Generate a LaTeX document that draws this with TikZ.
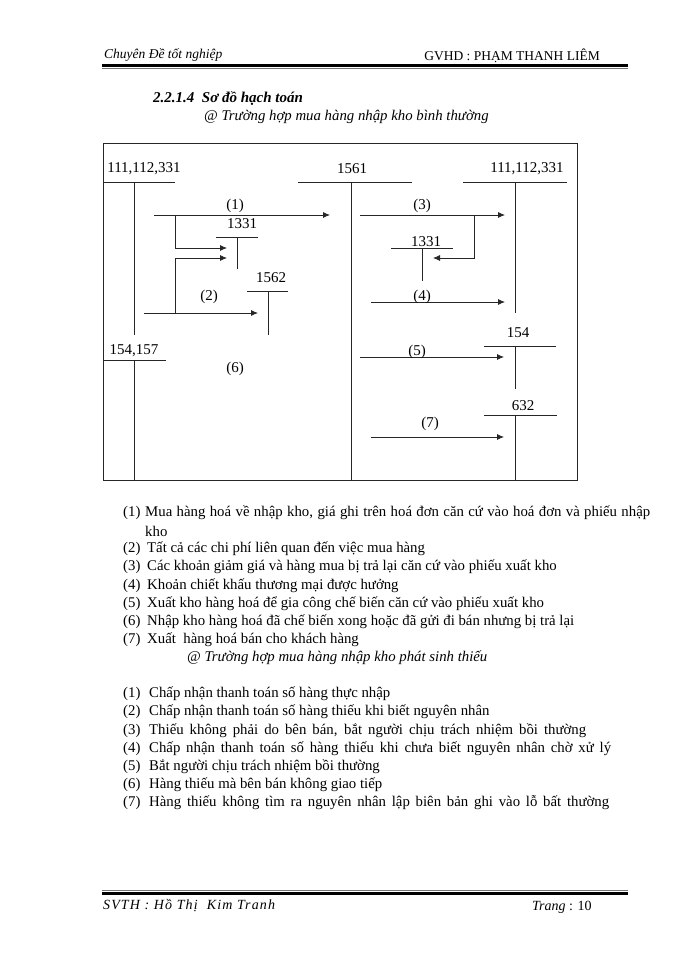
\documentclass[tikz,border=0pt]{standalone}
\usepackage{fontspec}
\setmainfont{Liberation Serif}
\usetikzlibrary{arrows.meta}
\tikzstyle{tk}=[draw=black!85,line width=.8pt]
\tikzstyle{arr}=[tk,-{Latex[length=7pt,width=6pt]}]
\tikzstyle{lbl}=[inner sep=0pt,font=\fontsize{15}{17}\selectfont]
\tikzstyle{itm}=[anchor=west,inner sep=0pt,font=\fontsize{14.8}{17}\selectfont]

\begin{document}
\begin{tikzpicture}[x=1pt,y=-1pt]
\useasboundingbox (0,0) rectangle (700,960);
% header
\node[itm,font=\itshape\fontsize{13.5}{15}\selectfont] (hdl) at (104,55) {Chuyên Đề tốt nghiệp};
\node[itm,anchor=east,font=\fontsize{13.5}{15}\selectfont] (hdr) at (600,56) {GVHD : PHẠM THANH LIÊM};
\draw[line width=2.5pt] (102,65.5) -- (628,65.5);
\draw[line width=.6pt,black!55] (102,68.5) -- (628,68.5);
\node[itm,font=\bfseries\itshape\fontsize{15}{17}\selectfont] (ttl) at (153,99) {2.2.1.4\ \ Sơ đồ hạch toán};
\node[itm,font=\itshape\fontsize{14.8}{17}\selectfont] (sub) at (204,117) {@ Trường hợp mua hàng nhập kho bình thường};
% frame
\draw[tk] (103,143) rectangle (577,480);
% T accounts
\node[lbl] (ta) at (144,169) {111,112,331};
\draw[tk] (103,182) -- (175,182); \draw[tk] (134,182) -- (134,335);
\node[lbl] (tb) at (352,169) {1561};
\draw[tk] (298,182) -- (412,182); \draw[tk] (351,182) -- (351,480);
\node[lbl] (tc) at (527,169) {111,112,331};
\draw[tk] (463,182) -- (567,182); \draw[tk] (515,182) -- (515,313);
\node[lbl] (td) at (242,224) {1331};
\draw[tk] (216,237) -- (258,237); \draw[tk] (237,237) -- (237,269);
\node[lbl] (te) at (271,278) {1562};
\draw[tk] (247,291) -- (288,291); \draw[tk] (268,291) -- (268,335);
\node[lbl] (tf) at (426,242) {1331};
\draw[tk] (391,248) -- (453,248); \draw[tk] (422,248) -- (422,281);
\node[lbl] (tg) at (134,351) {154,157};
\draw[tk] (103,360) -- (166,360); \draw[tk] (134,360) -- (134,480);
\node[lbl] (th) at (518,333) {154};
\draw[tk] (484,346) -- (556,346); \draw[tk] (515,346) -- (515,389);
\node[lbl] (ti) at (523,406) {632};
\draw[tk] (484,415) -- (557,415); \draw[tk] (515,415) -- (515,480);
% arrows
\coordinate (a1s) at (154,215); \coordinate (a1e) at (330,215);
\coordinate (b1) at (175,215); \coordinate (b2) at (175,248); \coordinate (b3) at (227,248);
\coordinate (c1) at (175,313); \coordinate (c2) at (175,258); \coordinate (c3) at (227,258);
\coordinate (a2s) at (144,313); \coordinate (a2e) at (258,313);
\coordinate (a3s) at (360,215); \coordinate (a3e) at (505,215);
\coordinate (d1) at (474,215); \coordinate (d2) at (474,258); \coordinate (d3) at (433,258);
\coordinate (a4s) at (371,302); \coordinate (a4e) at (505,302);
\coordinate (a5s) at (360,357); \coordinate (a5e) at (504,357);
\coordinate (a7s) at (371,437); \coordinate (a7e) at (504,437);
\draw[arr] (a1s) -- (a1e);
\draw[arr] (b1) -- (b2) -- (b3);
\draw[arr] (c1) -- (c2) -- (c3);
\draw[arr] (a2s) -- (a2e);
\draw[arr] (a3s) -- (a3e);
\draw[arr] (d1) -- (d2) -- (d3);
\draw[arr] (a4s) -- (a4e);
\draw[arr] (a5s) -- (a5e);
\draw[arr] (a7s) -- (a7e);
\node[lbl] (l1) at (235,206) {(1)};
\node[lbl] (l2) at (209,297) {(2)};
\node[lbl] (l3) at (422,206) {(3)};
\node[lbl] (l4) at (422,297) {(4)};
\node[lbl] (l5) at (417,352) {(5)};
\node[lbl] (l6) at (235,369) {(6)};
\node[lbl] (l7) at (430,424) {(7)};
% list 1
\node[itm] (n11) at (123,513) {(1)};
\node[itm] (t11) at (145,513) {\makebox[505pt][s]{Mua hàng hoá về nhập kho, giá ghi trên hoá đơn căn cứ vào hoá đơn và phiếu nhập}};
\node[itm] (t11b) at (145,531) {kho};
\node[itm] (n12) at (123,549) {(2)};
\node[itm] (t12) at (147,549) {Tất cả các chi phí liên quan đến việc mua hàng};
\node[itm] (n13) at (123,567) {(3)};
\node[itm] (t13) at (147,567) {Các khoản giảm giá và hàng mua bị trả lại căn cứ vào phiếu xuất kho};
\node[itm] (n14) at (123,586) {(4)};
\node[itm] (t14) at (147,586) {Khoản chiết khấu thương mại được hưởng};
\node[itm] (n15) at (123,604) {(5)};
\node[itm] (t15) at (147,604) {Xuất kho hàng hoá để gia công chế biến căn cứ vào phiếu xuất kho};
\node[itm] (n16) at (123,622) {(6)};
\node[itm] (t16) at (147,622) {Nhập kho hàng hoá đã chế biến xong hoặc đã gửi đi bán nhưng bị trả lại};
\node[itm] (n17) at (123,640) {(7)};
\node[itm] (t17) at (147,640) {Xuất\ \ hàng hoá bán cho khách hàng};
\node[itm,font=\itshape\fontsize{14.8}{17}\selectfont] (sub2) at (187,658) {@ Trường hợp mua hàng nhập kho phát sinh thiếu};
% list 2
\node[itm] (n21) at (123,694) {(1)};
\node[itm] (t21) at (149,694) {Chấp nhận thanh toán số hàng thực nhập};
\node[itm] (n22) at (123,712) {(2)};
\node[itm] (t22) at (149,712) {Chấp nhận thanh toán số hàng thiếu khi biết nguyên nhân};
\node[itm] (n23) at (123,731) {(3)};
\node[itm] (t23) at (149,731) {\makebox[437pt][s]{Thiếu không phải do bên bán, bắt người chịu trách nhiệm bồi thường}};
\node[itm] (n24) at (123,749) {(4)};
\node[itm] (t24) at (149,749) {\makebox[462pt][s]{Chấp nhận thanh toán số hàng thiếu khi chưa biết nguyên nhân chờ xử lý}};
\node[itm] (n25) at (123,767) {(5)};
\node[itm] (t25) at (149,767) {Bắt người chịu trách nhiệm bồi thường};
\node[itm] (n26) at (123,785) {(6)};
\node[itm] (t26) at (149,785) {Hàng thiếu mà bên bán không giao tiếp};
\node[itm] (n27) at (123,803) {(7)};
\node[itm] (t27) at (149,803) {\makebox[460pt][s]{Hàng thiếu không tìm ra nguyên nhân lập biên bản ghi vào lỗ bất thường}};
% footer
\draw[line width=.6pt,black!55] (102,890.5) -- (628,890.5);
\draw[line width=2.5pt] (102,893.5) -- (628,893.5);
\node[itm,font=\itshape\fontsize{14}{16}\selectfont\addfontfeature{LetterSpace=8}] (ftl) at (103,906) {SVTH : Hồ Thị\ \ Kim Tranh};
\node[itm,font=\fontsize{14}{16}\selectfont] (ftr) at (532,907) {{\itshape Trang} : 10};
\end{tikzpicture}
\end{document}
